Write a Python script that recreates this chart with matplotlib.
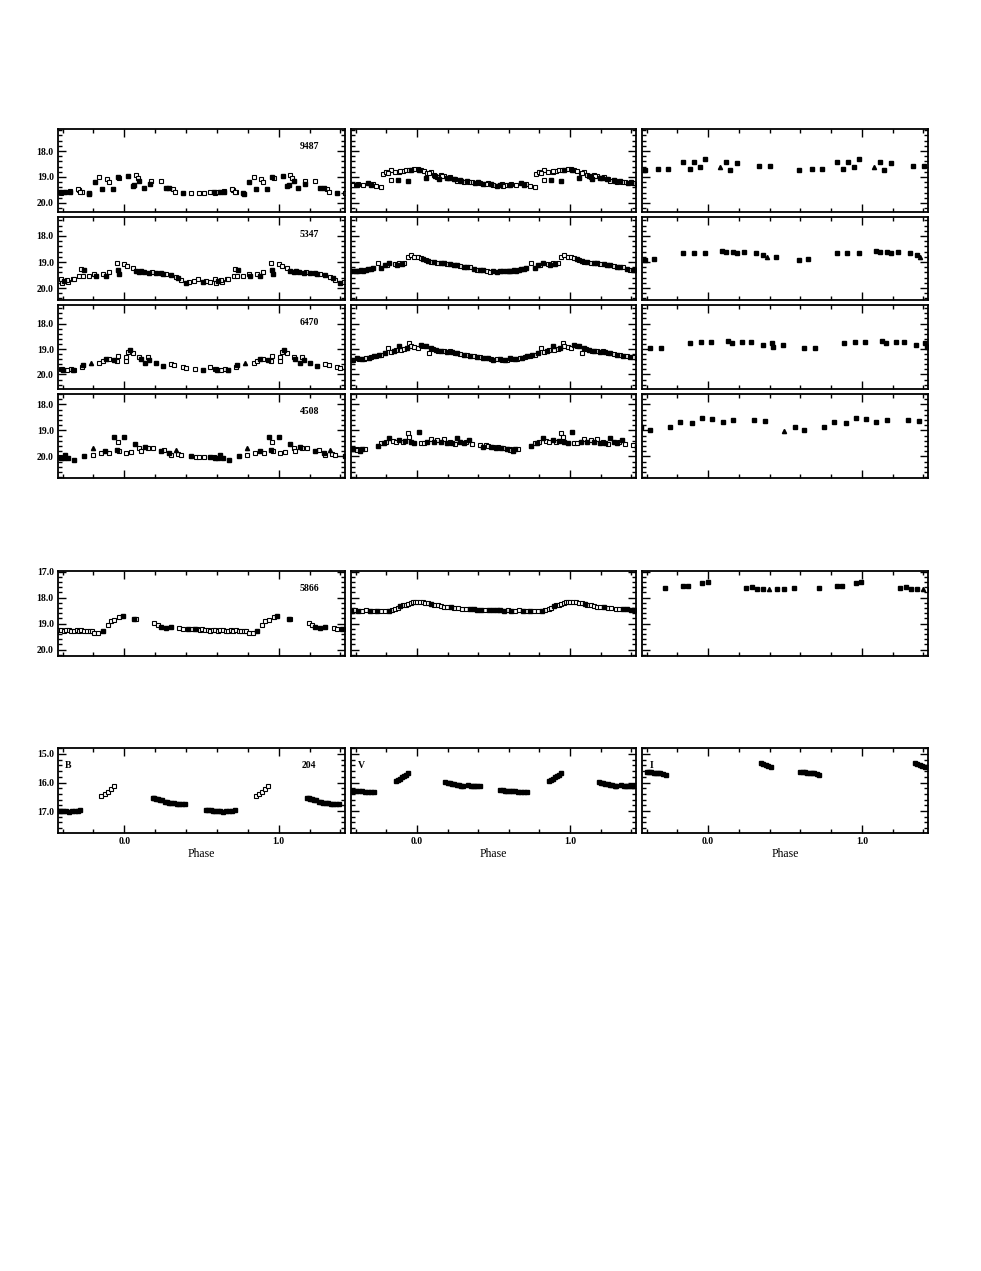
import matplotlib
matplotlib.use("Agg")
import matplotlib.pyplot as plt
from matplotlib.ticker import MultipleLocator, FormatStrFormatter

# Light curves of six variables, B / V / I, folded on phase.
# kind codes: s = open square, f = filled square, t = filled triangle

stars = ["9487", "5347", "6470", "4508", "5866", "204"]
bands = ["B", "V", "I"]

# ---- 9487 ----
ph_9487_B = [0.589, 0.617, 0.647, 0.703, 0.725, 0.773, 0.810, 0.838, 0.855, 0.888,
             0.898, 0.924, 0.957, 0.968, 0.026, 0.054, 0.065, 0.076, 0.087, 0.097,
             0.126, 0.169, 0.173, 0.238, 0.271, 0.292, 0.314, 0.329, 0.379, 0.433,
             0.487, 0.519, 0.552, 0.584, 0.606, 0.649, 0.699, 0.714, 0.768]
mag_9487_B = [19.60, 19.56, 19.54, 19.50, 19.56, 19.65, 19.18, 18.99, 19.47, 19.09,
              19.18, 19.47, 19.01, 19.05, 18.96, 19.35, 19.31, 18.92, 19.05, 19.14,
              19.44, 19.27, 19.15, 19.15, 19.41, 19.41, 19.47, 19.56, 19.60, 19.63,
              19.63, 19.60, 19.56, 19.56, 19.56, 19.56, 19.47, 19.56, 19.63]
k_9487_B = "sfsss ffsfs sffsf ffssf ffssf fssfs sssfs fssf"

ph_9487_V = [0.596, 0.617, 0.650, 0.682, 0.714, 0.735, 0.768, 0.779, 0.800, 0.832,
             0.832, 0.854, 0.875, 0.886, 0.908, 0.929, 0.940, 0.950, 0.983, 0.004,
             0.026, 0.047, 0.058, 0.069, 0.090, 0.112, 0.134, 0.144, 0.155, 0.176,
             0.198, 0.219, 0.241, 0.262, 0.284, 0.305, 0.327, 0.359, 0.381, 0.413,
             0.434, 0.466, 0.499, 0.520, 0.553, 0.574,
             0.610, 0.700, 0.810, 0.890, 0.960, 0.015, 0.080, 0.120, 0.165, 0.210,
             0.250, 0.290, 0.340, 0.400, 0.450, 0.485, 0.540, 0.560]
mag_9487_V = [19.31, 19.27, 19.31, 19.24, 19.27, 19.33, 19.37, 18.88, 18.80, 18.73,
              19.12, 18.80, 19.12, 18.80, 18.76, 18.73, 19.14, 18.73, 18.69, 18.71,
              18.73, 18.76, 19.05, 18.86, 18.82, 18.92, 18.99, 19.09, 18.92, 18.96,
              19.05, 18.99, 19.09, 19.15, 19.12, 19.18, 19.15, 19.18, 19.22, 19.24,
              19.27, 19.24, 19.31, 19.33, 19.28, 19.31,
              19.29, 19.30, 18.85, 18.78, 18.72, 18.74, 18.84, 18.95, 18.98, 19.02,
              19.08, 19.16, 19.20, 19.20, 19.26, 19.28, 19.30, 19.34]
k_9487_V = "sssfs sssss ssfss sfsss ssfss ssfss fsfsf sfsfs fssfs s ffssf fsfsf sfsfs ffs"

ph_9487_I = [0.591, 0.677, 0.742, 0.835, 0.879, 0.909, 0.948, 0.981, 0.078, 0.117,
             0.143, 0.190, 0.333, 0.403]
mag_9487_I = [18.73, 18.69, 18.69, 18.44, 18.69, 18.44, 18.60, 18.31, 18.60, 18.41,
              18.73, 18.45, 18.58, 18.58]
k_9487_I = "fffff ffftf ffff"

# ---- 5347 ----
ph_5347_B = [0.589, 0.610, 0.632, 0.664, 0.708, 0.719, 0.729, 0.768, 0.805, 0.816,
             0.859, 0.881, 0.898, 0.950, 0.957, 0.963, 0.000, 0.054, 0.076, 0.097,
             0.130, 0.162, 0.206, 0.238, 0.271, 0.303, 0.336, 0.368, 0.400, 0.422,
             0.476, 0.509, 0.552, 0.595, 0.628, 0.671, 0.736, 0.020, 0.110, 0.180,
             0.250, 0.350, 0.450, 0.530]
mag_5347_B = [19.67, 19.73, 19.78, 19.67, 19.54, 19.28, 19.54, 19.54, 19.46, 19.54,
              19.46, 19.54, 19.37, 19.03, 19.31, 19.46, 19.09, 19.22, 19.33, 19.37,
              19.37, 19.41, 19.41, 19.44, 19.46, 19.50, 19.56, 19.69, 19.80, 19.76,
              19.67, 19.76, 19.76, 19.80, 19.69, 19.67, 19.31, 19.15, 19.35, 19.40,
              19.46, 19.60, 19.72, 19.74]
k_5347_B = "sfsss ssssf sfssf fssff ffffs fssfs sfsss sfsfs ffss"

ph_5347_V = [0.585, 0.600, 0.617, 0.633, 0.650, 0.666, 0.682, 0.698, 0.714, 0.746,
             0.768, 0.789, 0.805, 0.821, 0.854, 0.870, 0.886, 0.902, 0.918, 0.940,
             0.961, 0.983, 0.004, 0.026, 0.042, 0.058, 0.075, 0.090, 0.112, 0.134,
             0.155, 0.176, 0.198, 0.219, 0.240, 0.262, 0.284, 0.305, 0.326, 0.348,
             0.370, 0.391, 0.412, 0.434, 0.456, 0.477, 0.498, 0.520, 0.542, 0.563]
mag_5347_V = [19.35, 19.33, 19.35, 19.31, 19.33, 19.31, 19.28, 19.28, 19.24, 19.03,
              19.24, 19.12, 19.10, 19.05, 19.08, 19.12, 19.05, 19.06, 19.03, 18.82,
              18.73, 18.80, 18.82, 18.86, 18.88, 18.92, 18.95, 18.99, 19.01, 19.03,
              19.04, 19.05, 19.08, 19.08, 19.10, 19.12, 19.15, 19.18, 19.20, 19.21,
              19.26, 19.31, 19.30, 19.31, 19.34, 19.37, 19.36, 19.37, 19.35, 19.33]
k_5347_V = "fffff ffffs ffsfs fsfss ssssf sfsfs ffsff fsffs fsffs sffff"

ph_5347_I = [0.591, 0.649, 0.835, 0.905, 0.981, 0.089, 0.117, 0.165, 0.190, 0.234,
             0.312, 0.359, 0.381, 0.442]
mag_5347_I = [18.92, 18.90, 18.67, 18.67, 18.67, 18.58, 18.63, 18.63, 18.67, 18.60,
              18.67, 18.73, 18.80, 18.80]
k_5347_I = "fffff fffff fftf"

# ---- 6470 ----
ph_6470_B = [0.589, 0.600, 0.654, 0.669, 0.725, 0.729, 0.784, 0.838, 0.859, 0.881,
             0.898, 0.930, 0.950, 0.957, 0.011, 0.011, 0.022, 0.037, 0.054, 0.097,
             0.108, 0.136, 0.152, 0.162, 0.206, 0.249, 0.303, 0.325, 0.379, 0.400,
             0.455, 0.509, 0.552, 0.595, 0.628, 0.671]
mag_6470_B = [19.78, 19.82, 19.78, 19.82, 19.69, 19.63, 19.53, 19.53, 19.47, 19.39,
              19.40, 19.43, 19.46, 19.27, 19.30, 19.46, 19.10, 19.04, 19.17, 19.30,
              19.39, 19.53, 19.33, 19.43, 19.56, 19.67, 19.59, 19.63, 19.69, 19.73,
              19.78, 19.82, 19.69, 19.78, 19.82, 19.82]
k_6470_B = "sfsfs ftssf sfsss ssfss ffsff fssss sfsss s"

ph_6470_V = [0.585, 0.606, 0.622, 0.639, 0.655, 0.671, 0.687, 0.703, 0.719, 0.735,
             0.750, 0.768, 0.789, 0.811, 0.832, 0.848, 0.865, 0.886, 0.897, 0.918,
             0.935, 0.951, 0.961, 0.983, 0.004, 0.026, 0.042, 0.058, 0.080, 0.090,
             0.105, 0.123, 0.140, 0.155, 0.176, 0.198, 0.214, 0.230, 0.246, 0.262,
             0.284, 0.305, 0.326, 0.348, 0.370, 0.391, 0.412, 0.434, 0.450, 0.466,
             0.482, 0.499, 0.520, 0.542, 0.558, 0.574]
mag_6470_V = [19.43, 19.37, 19.41, 19.40, 19.39, 19.37, 19.34, 19.30, 19.28, 19.26,
              19.25, 19.24, 19.17, 18.97, 19.10, 19.06, 19.04, 18.88, 19.04, 19.01,
              18.95, 18.78, 18.88, 18.91, 18.97, 18.84, 18.90, 18.88, 19.17, 18.97,
              19.01, 19.04, 19.06, 19.08, 19.09, 19.10, 19.09, 19.10, 19.14, 19.17,
              19.20, 19.24, 19.25, 19.26, 19.28, 19.30, 19.32, 19.34, 19.36, 19.37,
              19.40, 19.43, 19.41, 19.40, 19.42, 19.43]
k_6470_V = "sfsfs sfsfs fsfss fsfss fssss fsfsf sfsfs fsfsf sfsfs fsfsf sfsfs f"

ph_6470_I = [0.623, 0.695, 0.883, 0.952, 0.019, 0.132, 0.154, 0.219, 0.277, 0.355,
             0.413, 0.424, 0.489]
mag_6470_I = [18.95, 18.95, 18.75, 18.71, 18.74, 18.69, 18.75, 18.74, 18.71, 18.84,
              18.78, 18.91, 18.84]
k_6470_I = "fffff fffff fff"

# ---- 4508 ----
ph_4508_B = [0.589, 0.610, 0.638, 0.675, 0.740, 0.794, 0.794, 0.848, 0.876, 0.903,
             0.935, 0.950, 0.957, 0.963, 0.000, 0.011, 0.043, 0.071, 0.097, 0.108,
             0.136, 0.152, 0.184, 0.238, 0.260, 0.292, 0.303, 0.336, 0.346, 0.368,
             0.433, 0.465, 0.487, 0.519, 0.552, 0.584, 0.617]
mag_4508_B = [20.05, 20.07, 20.05, 20.13, 19.97, 19.68, 19.94, 19.88, 19.81, 19.85,
              19.26, 19.75, 19.43, 19.81, 19.26, 19.85, 19.84, 19.52, 19.68, 19.81,
              19.62, 19.68, 19.68, 19.81, 19.75, 19.88, 19.94, 19.75, 19.92, 19.94,
              19.98, 20.01, 20.03, 20.01, 20.03, 20.01, 19.94]
k_4508_B = "fffff tssfs ffssf ssfss fssfs fstss fsssf sf"

ph_4508_V = [0.585, 0.606, 0.628, 0.660, 0.746, 0.768, 0.784, 0.800, 0.821, 0.843,
             0.865, 0.886, 0.908, 0.925, 0.940, 0.951, 0.961, 0.983, 0.015, 0.026,
             0.047, 0.069, 0.090, 0.112, 0.134, 0.155, 0.176, 0.198, 0.215, 0.230,
             0.246, 0.262, 0.284, 0.305, 0.320, 0.337, 0.359, 0.413, 0.434, 0.450,
             0.466, 0.482, 0.499, 0.515, 0.531, 0.547, 0.563, 0.585, 0.606, 0.640]
mag_4508_V = [19.72, 19.72, 19.81, 19.72, 19.60, 19.49, 19.47, 19.43, 19.30, 19.39,
              19.43, 19.37, 19.43, 19.40, 19.11, 19.24, 19.43, 19.49, 19.05, 19.49,
              19.47, 19.43, 19.34, 19.43, 19.37, 19.43, 19.34, 19.47, 19.44, 19.47,
              19.52, 19.30, 19.43, 19.49, 19.45, 19.37, 19.52, 19.56, 19.62, 19.58,
              19.60, 19.65, 19.62, 19.66, 19.62, 19.68, 19.69, 19.72, 19.75, 19.70]
k_4508_V = "ssfsf sfsfs sfsfs sfffs sfsfs fsfsf sfffs fssfs sfsfs fsfsf"

ph_4508_I = [0.623, 0.753, 0.818, 0.894, 0.959, 0.024, 0.095, 0.165, 0.299, 0.370,
             0.494, 0.565]
mag_4508_I = [18.98, 18.85, 18.66, 18.70, 18.53, 18.56, 18.66, 18.60, 18.60, 18.63,
              19.01, 18.85]
k_4508_I = "fffff fffff tf"

# ---- 5866 ----
ph_5866_B = [0.470, 0.488, 0.503, 0.521, 0.540, 0.556, 0.572, 0.590, 0.606, 0.623,
             0.641, 0.657, 0.672, 0.690, 0.707, 0.722, 0.740, 0.757, 0.775, 0.790,
             0.805, 0.831, 0.859, 0.892, 0.913, 0.935, 0.968, 0.989, 0.065, 0.076,
             0.195, 0.216, 0.238, 0.271, 0.303, 0.357, 0.379, 0.411, 0.440, 0.455]
mag_5866_B = [19.20, 19.24, 19.22, 19.26, 19.24, 19.27, 19.25, 19.24, 19.27, 19.26,
              19.24, 19.28, 19.27, 19.25, 19.27, 19.26, 19.28, 19.27, 19.28, 19.30,
              19.37, 19.35, 19.28, 19.05, 18.92, 18.86, 18.75, 18.70, 18.82, 18.82,
              18.99, 19.05, 19.15, 19.18, 19.14, 19.18, 19.22, 19.22, 19.20, 19.22]
k_5866_B = "sssss sssss sssss sssss ssfss ssffs ssfff ssfsf"

ph_5866_V = [0.000, 0.018, 0.037, 0.055, 0.075, 0.095, 0.112, 0.135, 0.155, 0.178,
             0.198, 0.222, 0.245, 0.268, 0.297, 0.320, 0.345, 0.372, 0.395, 0.418,
             0.445, 0.470, 0.494, 0.520, 0.545, 0.570, 0.596, 0.617, 0.642, 0.668,
             0.693, 0.718, 0.741, 0.766, 0.790, 0.815, 0.839, 0.860, 0.877, 0.893,
             0.910, 0.926, 0.943, 0.960, 0.975, 0.988]
mag_5866_V = [18.16, 18.17, 18.19, 18.21, 18.23, 18.25, 18.28, 18.30, 18.32, 18.35,
              18.37, 18.38, 18.40, 18.41, 18.43, 18.43, 18.45, 18.46, 18.47, 18.47,
              18.48, 18.48, 18.49, 18.48, 18.49, 18.50, 18.49, 18.50, 18.50, 18.49,
              18.50, 18.51, 18.50, 18.51, 18.50, 18.50, 18.49, 18.46, 18.40, 18.34,
              18.30, 18.27, 18.24, 18.20, 18.18, 18.16]
k_5866_V = "sssss fssss sfsss sffff sffff fsfss fsfss fsssf sssss s"

ph_5866_I = [0.718, 0.835, 0.868, 0.960, 0.997, 0.246, 0.284, 0.321, 0.358, 0.396,
             0.445, 0.495, 0.557]
mag_5866_I = [17.65, 17.55, 17.55, 17.43, 17.40, 17.65, 17.59, 17.66, 17.68, 17.68,
              17.66, 17.66, 17.65]
k_5866_I = "fffff fffft fff"

# ---- 204 ----
ph_204_B = [0.184, 0.195, 0.206, 0.218, 0.230, 0.242, 0.262, 0.275, 0.290, 0.305,
            0.320, 0.338, 0.355, 0.372, 0.390, 0.530, 0.545, 0.560, 0.575, 0.590,
            0.605, 0.620, 0.640, 0.660, 0.680, 0.700, 0.714, 0.851, 0.872, 0.893,
            0.913, 0.933]
mag_204_B = [16.53, 16.55, 16.57, 16.58, 16.61, 16.62, 16.68, 16.70, 16.71, 16.72,
             16.73, 16.74, 16.75, 16.76, 16.77, 16.96, 16.97, 16.98, 16.99, 17.00,
             17.00, 17.01, 17.02, 17.01, 17.00, 16.99, 16.98, 16.46, 16.42, 16.32,
             16.21, 16.12]
k_204_B = "fffff fffff fffff fffff fffff ffsss ss"

ph_204_V = [0.545, 0.560, 0.575, 0.590, 0.605, 0.620, 0.640, 0.660, 0.680, 0.700,
            0.717, 0.865, 0.878, 0.890, 0.903, 0.915, 0.927, 0.939, 0.186, 0.200,
            0.215, 0.230, 0.245, 0.260, 0.275, 0.290, 0.298, 0.335, 0.350, 0.365,
            0.380, 0.395, 0.409]
mag_204_V = [16.26, 16.27, 16.28, 16.29, 16.30, 16.30, 16.31, 16.32, 16.32, 16.33,
             16.33, 15.96, 15.90, 15.86, 15.81, 15.77, 15.72, 15.68, 15.98, 16.00,
             16.02, 16.04, 16.06, 16.08, 16.10, 16.12, 16.13, 16.10, 16.11, 16.11,
             16.12, 16.12, 16.13]
k_204_V = "fffff fffff fffff fffff fffff fffff fff"

ph_204_I = [0.600, 0.615, 0.630, 0.645, 0.660, 0.675, 0.690, 0.707, 0.723, 0.346,
            0.360, 0.375, 0.390, 0.408]
mag_204_I = [15.62, 15.63, 15.64, 15.65, 15.66, 15.67, 15.68, 15.70, 15.72, 15.33,
             15.35, 15.37, 15.41, 15.45]
k_204_I = "fffff fffff ffff"

panels = [
    [(ph_9487_B, mag_9487_B, k_9487_B), (ph_9487_V, mag_9487_V, k_9487_V), (ph_9487_I, mag_9487_I, k_9487_I)],
    [(ph_5347_B, mag_5347_B, k_5347_B), (ph_5347_V, mag_5347_V, k_5347_V), (ph_5347_I, mag_5347_I, k_5347_I)],
    [(ph_6470_B, mag_6470_B, k_6470_B), (ph_6470_V, mag_6470_V, k_6470_V), (ph_6470_I, mag_6470_I, k_6470_I)],
    [(ph_4508_B, mag_4508_B, k_4508_B), (ph_4508_V, mag_4508_V, k_4508_V), (ph_4508_I, mag_4508_I, k_4508_I)],
    [(ph_5866_B, mag_5866_B, k_5866_B), (ph_5866_V, mag_5866_V, k_5866_V), (ph_5866_I, mag_5866_I, k_5866_I)],
    [(ph_204_B, mag_204_B, k_204_B), (ph_204_V, mag_204_V, k_204_V), (ph_204_I, mag_204_I, k_204_I)],
]

# layout in pixels of the original page
W, H = 981, 1271
col_x = [(58, 345), (351, 636), (642, 928)]
row_y = [(129, 212), (217, 300), (305, 389), (394, 478), (571, 656), (748, 833)]
ylims = [(20.35, 17.15), (20.46, 17.27), (20.57, 17.27), (20.83, 17.60), (20.25, 16.98), (17.77, 14.79)]

plt.rcParams['font.family'] = ['Liberation Serif', 'DejaVu Serif']
plt.rcParams['font.weight'] = 'bold'


def draw_points(ax, phase, mag, kind):
    kind = kind.replace(" ", "")
    assert len(phase) == len(mag) == len(kind), (len(phase), len(mag), len(kind))
    # each point is drawn at phase-1, phase and phase+1
    for shift in (-1.0, 0.0, 1.0):
        for code in "sft":
            xs = [p + shift for p, c in zip(phase, kind) if c == code]
            ys = [m for m, c in zip(mag, kind) if c == code]
            if not xs:
                continue
            if code == "s":
                ax.plot(xs, ys, "s", ms=3.3, mfc="white", mec="black", mew=0.8, ls="none")
            elif code == "f":
                ax.plot(xs, ys, "s", ms=2.6, color="black", ls="none")
            else:
                ax.plot(xs, ys, "^", ms=3.0, color="black", ls="none")


fig = plt.figure(figsize=(W / 100, H / 100), dpi=100)

for r in range(6):
    for c in range(3):
        x0, x1 = col_x[c]
        y0, y1 = row_y[r]
        ax = fig.add_axes([x0 / W, 1 - y1 / H, (x1 - x0) / W, (y1 - y0) / H])
        ph, mag, kind = panels[r][c]
        draw_points(ax, ph, mag, kind)

        ax.set_xlim(-0.43, 1.43)
        ax.set_ylim(*ylims[r])
        ax.xaxis.set_major_locator(MultipleLocator(1.0))
        ax.xaxis.set_minor_locator(MultipleLocator(0.2))
        ax.yaxis.set_major_locator(MultipleLocator(1.0))
        ax.yaxis.set_minor_locator(MultipleLocator(0.2))
        ax.xaxis.set_major_formatter(FormatStrFormatter("%.1f"))
        ax.yaxis.set_major_formatter(FormatStrFormatter("%.1f"))
        ax.tick_params(which="both", direction="in", top=True, right=True, width=1.0)
        ax.tick_params(which="major", length=5.5, labelsize=7, pad=3)
        ax.tick_params(which="minor", length=2.8)
        for sp in ax.spines.values():
            sp.set_linewidth(1.3)

        if c != 0:
            ax.tick_params(labelleft=False)
        if r != 5:
            ax.tick_params(labelbottom=False)
        else:
            ax.set_xlabel("Phase", fontsize=8.5, labelpad=1)

        if c == 0:
            ax.text(0.875, 0.79, stars[r], transform=ax.transAxes,
                    ha="center", va="center", fontsize=7)
        if r == 5:
            ax.text(0.035, 0.79, bands[c], transform=ax.transAxes,
                    ha="center", va="center", fontsize=7)

fig.savefig("out.png", dpi=100)
